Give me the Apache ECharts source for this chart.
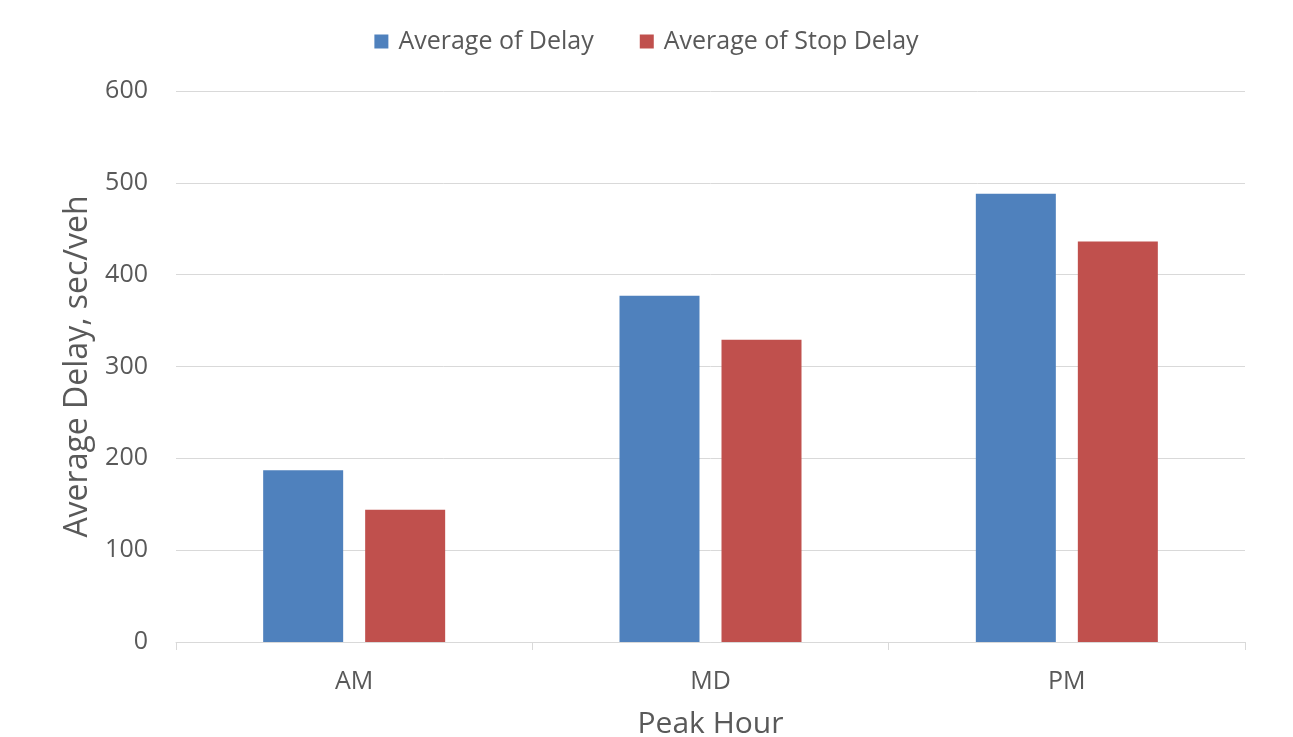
<!DOCTYPE html>
<html><head><meta charset="utf-8">
<script src="https://cdn.jsdelivr.net/npm/echarts@6/dist/echarts.min.js"></script>
<style>html,body{margin:0;padding:0;background:#fff;overflow:hidden}#c{width:1293px;height:737px}</style>
</head><body><div id="c"></div>
<script>
const categories = ['AM', 'MD', 'PM'];
const avgDelay = [187, 377, 488];
const avgStopDelay = [144, 329, 436];
const yTicks = [0, 100, 200, 300, 400, 500, 600];

const font = '"Open Sans", sans-serif';
const chart = echarts.init(document.getElementById('c'));
chart.setOption({
  animation: false,
  textStyle: { fontFamily: font },
  legend: {
    top: 24, left: 'center', itemWidth: 14, itemHeight: 14, itemGap: 46,
    icon: 'rect',
    textStyle: { fontSize: 25, color: '#595959', fontFamily: font, padding: [0, 0, 0, 5] }
  },
  grid: { left: 176, right: 48, top: 91, bottom: 95, containLabel: false, outerBoundsMode: 'none' },
  xAxis: {
    type: 'category', data: categories,
    name: 'Peak Hour', nameLocation: 'middle', nameGap: 67,
    nameTextStyle: { fontSize: 30, color: '#595959', fontFamily: font },
    axisLine: { lineStyle: { color: '#d9d9d9', width: 1 } },
    axisTick: { show: true, length: 8, lineStyle: { color: '#d9d9d9' } },
    axisLabel: { fontSize: 25, color: '#595959', margin: 27, fontFamily: font }
  },
  yAxis: {
    type: 'value', min: yTicks[0], max: yTicks[yTicks.length - 1], interval: 100,
    name: 'Average Delay, sec/veh', nameLocation: 'middle', nameGap: 78, nameRotate: 90,
    nameTextStyle: { fontSize: 32, color: '#595959', fontFamily: font },
    axisLine: { show: false }, axisTick: { show: false },
    axisLabel: { fontSize: 25, color: '#595959', margin: 28, fontFamily: font },
    splitLine: { lineStyle: { color: '#d9d9d9', width: 1 } }
  },
  series: [
    { name: 'Average of Delay', type: 'bar', data: avgDelay, barWidth: 80, barGap: '27.5%',
      itemStyle: { color: '#4f81bd' } },
    { name: 'Average of Stop Delay', type: 'bar', data: avgStopDelay, barWidth: 80,
      itemStyle: { color: '#c0504d' } }
  ]
});
</script></body></html>
